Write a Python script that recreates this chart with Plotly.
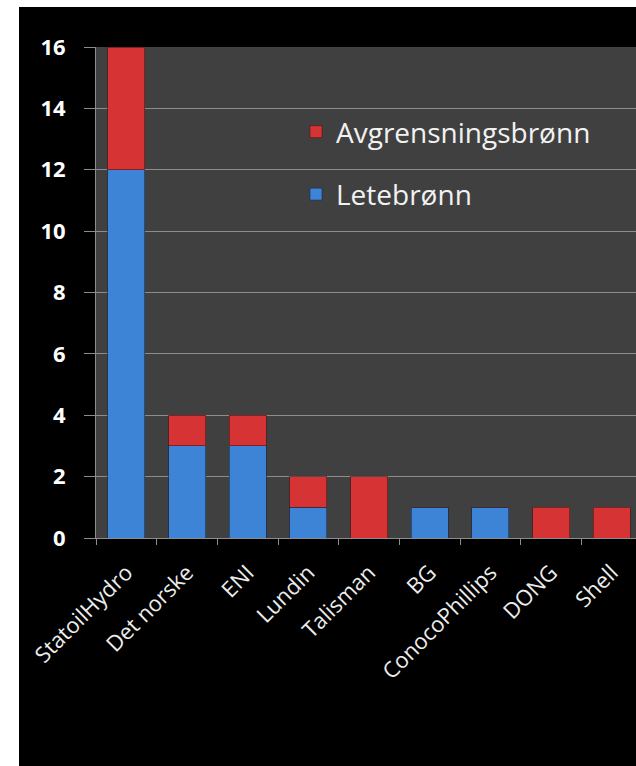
import plotly.graph_objects as go

companies = ["StatoilHydro", "Det norske", "ENI", "Lundin", "Talisman", "BG",
             "ConocoPhillips", "DONG", "Shell"]
letebronn = [12, 3, 3, 1, 0, 1, 1, 0, 0]
avgrensning = [4, 1, 1, 1, 2, 0, 0, 1, 1]
y_ticks = [0, 2, 4, 6, 8, 10, 12, 14, 16]

W, H = 636, 766
ML, MR, MT, MB = 96, 0, 47, 228
pw = W - ML - MR
ph = H - MT - MB

def px_x(x):
    return (x - ML) / pw

def px_y(y):
    return (H - MB - y) / ph

fig = go.Figure()
fig.add_trace(go.Bar(
    x=companies, y=letebronn, name="Letebrønn", legendgroup="a", legendrank=2,
    marker=dict(color="#3d84d6", line=dict(color="rgba(20,40,80,0.6)", width=1)),
))
fig.add_trace(go.Bar(
    x=companies, y=avgrensning, name="Avgrensningsbrønn", legendgroup="b", legendrank=1,
    marker=dict(color="#d63434", line=dict(color="rgba(80,20,20,0.6)", width=1)),
))

fig.update_layout(
    width=W, height=H,
    margin=dict(l=ML, r=MR, t=MT, b=MB, pad=0),
    barmode="stack",
    bargap=0.39,
    paper_bgcolor="white",
    plot_bgcolor="rgba(0,0,0,0)",
    font=dict(family="Open Sans", color="white"),
    showlegend=True,
    legend=dict(
        x=px_x(296), y=px_y(107), xanchor="left", yanchor="top",
        bgcolor="rgba(0,0,0,0)", borderwidth=0,
        font=dict(family="Open Sans", size=28, color="#f2f2f2"),
        traceorder="grouped", tracegroupgap=23,
    ),
    shapes=[
        dict(type="rect", xref="paper", yref="paper", layer="below",
             x0=px_x(19), x1=1.02, y0=px_y(H + 5), y1=px_y(7),
             fillcolor="black", line=dict(width=0)),
        dict(type="rect", xref="paper", yref="paper", layer="below",
             x0=0, x1=1.02, y0=0, y1=1,
             fillcolor="#404040", line=dict(width=0)),
    ],
)

fig.update_yaxes(
    range=[0, 16], tickvals=y_ticks, automargin=False,
    showgrid=True, gridcolor="#8c8c8c", gridwidth=1,
    showline=True, linecolor="#8c8c8c", linewidth=1,
    ticks="outside", ticklen=11, tickcolor="#8c8c8c",
    tickfont=dict(family="Open Sans", size=22, color="white", weight="bold"),
    ticklabelstandoff=14, zeroline=False,
)
fig.update_xaxes(
    range=[-0.5, 8.4], automargin=False,
    showline=True, linecolor="#8c8c8c", linewidth=1,
    ticks="outside", ticklen=6, tickcolor="#8c8c8c", tickson="boundaries",
    tickangle=-45,
    tickfont=dict(family="Open Sans", size=22, color="#ececec"),
    ticklabelstandoff=12,
    showgrid=False,
)

fig.write_html(
    "out.html",
    config={"displayModeBar": False},
    post_script="document.body.style.margin='0';document.body.style.overflow='hidden';",
)
